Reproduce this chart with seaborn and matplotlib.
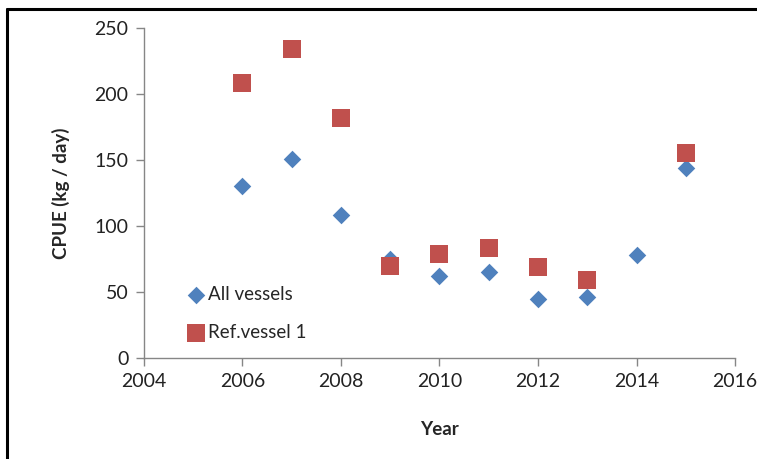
import matplotlib.pyplot as plt
import pandas as pd
import seaborn as sns
from matplotlib.lines import Line2D

years_all = [2006, 2007, 2008, 2009, 2010, 2011, 2012, 2013, 2014, 2015]
cpue_all = [130, 151, 108, 75, 62, 65, 45, 46, 78, 144]

years_ref = [2006, 2007, 2008, 2009, 2010, 2011, 2012, 2013, 2015]
cpue_ref = [208, 234, 182, 70, 79, 83, 69, 59, 155]

series_names = ["All vessels", "Ref.vessel 1"]
x_ticks = [2004, 2006, 2008, 2010, 2012, 2014, 2016]
y_ticks = [0, 50, 100, 150, 200, 250]

df = pd.concat(
    [
        pd.DataFrame({"Year": years_all, "CPUE": cpue_all, "series": series_names[0]}),
        pd.DataFrame({"Year": years_ref, "CPUE": cpue_ref, "series": series_names[1]}),
    ],
    ignore_index=True,
)

sns.set_style("white")
plt.rcParams["font.family"] = ["Lato", "DejaVu Sans"]

fig = plt.figure(figsize=(7.57, 4.59), dpi=100)
ax = fig.add_axes([0.190, 0.220, 0.781, 0.719])

grey = "#868686"
colors = {"All vessels": "#4F81BD", "Ref.vessel 1": "#C0504D"}
markers = {"All vessels": "D", "Ref.vessel 1": "s"}
sizes = {"All vessels": 80, "Ref.vessel 1": 150}

for name in series_names:
    sns.scatterplot(
        data=df[df["series"] == name],
        x="Year",
        y="CPUE",
        color=colors[name],
        marker=markers[name],
        s=sizes[name],
        linewidth=0,
        label=name,
        ax=ax,
        zorder=3 if name == "Ref.vessel 1" else 2,
    )

ax.set_xlim(2004, 2016)
ax.set_ylim(0, 250)
ax.set_xticks(x_ticks)
ax.set_yticks(y_ticks)
ax.tick_params(axis="both", labelsize=14, colors=grey, labelcolor="#222222",
               length=6, width=1, direction="out", bottom=True, left=True, pad=5)
for side in ["top", "right"]:
    ax.spines[side].set_visible(False)
for side in ["left", "bottom"]:
    ax.spines[side].set_color(grey)
    ax.spines[side].set_linewidth(1)

ax.set_xlabel("Year", fontsize=13.5, fontweight="bold", labelpad=22)
ax.set_ylabel("CPUE (kg / day)", fontsize=13.5, fontweight="bold", labelpad=18)

ax.legend(
    loc="lower left",
    bbox_to_anchor=(0.04, 0.0),
    frameon=False,
    fontsize=13.5,
    labelspacing=1.15,
    handletextpad=0.05,
    handlelength=1.2,
)

# outer frame, left and top edges
fig.add_artist(Line2D([6.5 / 757, 6.5 / 757], [0, 1 - 9 / 459], color="black", lw=2.2,
                      transform=fig.transFigure))
fig.add_artist(Line2D([6.5 / 757, 1], [1 - 9 / 459, 1 - 9 / 459], color="black", lw=2.2,
                      transform=fig.transFigure))

fig.savefig("out.png", dpi=100)
